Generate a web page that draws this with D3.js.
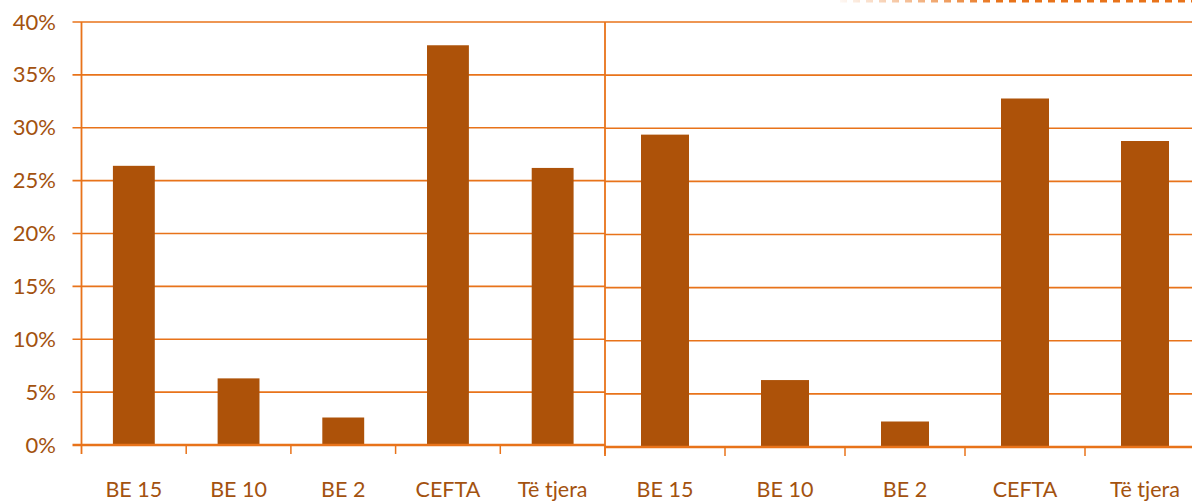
<!DOCTYPE html>
<html>
<head>
<meta charset="utf-8">
<script src="https://cdn.jsdelivr.net/npm/d3@7"></script>
<style>
  body { margin: 0; background: #fff; }
  svg { display: block; }
</style>
</head>
<body>
<div id="chart"></div>
<script>
// Data
const categories = ["BE 15", "BE 10", "BE 2", "CEFTA", "Të tjera"];
const leftValues = [0.264, 0.063, 0.026, 0.378, 0.262];
const rightValues = [0.294, 0.063, 0.024, 0.328, 0.288];
const yTicks = [0, 0.05, 0.10, 0.15, 0.20, 0.25, 0.30, 0.35, 0.40];

// Style
const W = 1192, H = 502;
const barColor = "#AD5209";
const gridColor = "#E8731A";
const textColor = "#A3520F";
const font = "Lato, 'Open Sans', sans-serif";

const svg = d3.select("#chart")
    .append("svg")
    .attr("width", W)
    .attr("height", H);

svg.append("rect").attr("width", W).attr("height", H).attr("fill", "#fff");

// Dashed border fragment at top right (fades in)
const grad = svg.append("defs").append("linearGradient")
    .attr("id", "fade")
    .attr("gradientUnits", "userSpaceOnUse")
    .attr("x1", 840).attr("x2", W).attr("y1", 0).attr("y2", 0);
grad.append("stop").attr("offset", "0%").attr("stop-color", gridColor).attr("stop-opacity", 0.05);
grad.append("stop").attr("offset", "45%").attr("stop-color", gridColor).attr("stop-opacity", 1);
svg.append("line")
    .attr("x1", 840).attr("x2", W).attr("y1", 1).attr("y2", 1)
    .attr("stroke", "url(#fade)")
    .attr("stroke-width", 3)
    .attr("stroke-dasharray", "7,6");

// Draw one panel
function panel(values, x0, x1, y0, y1, showYAxisLabels) {
    const xb = d3.scaleBand().domain(categories).range([x0, x1]);
    const y = d3.scaleLinear().domain([0, 0.40]).range([y0, y1]);

    const g = svg.append("g");

    // Gridlines
    g.selectAll(".grid")
        .data(yTicks.slice(1))
        .join("line")
        .attr("x1", showYAxisLabels ? x0 - 9 : x0)
        .attr("x2", x1)
        .attr("y1", d => y(d)).attr("y2", d => y(d))
        .attr("stroke", gridColor)
        .attr("stroke-width", 1.6);

    // Bars
    g.selectAll(".bar")
        .data(values)
        .join("rect")
        .attr("x", (d, i) => xb(categories[i]) + xb.bandwidth() * 0.3)
        .attr("width", xb.bandwidth() * 0.4)
        .attr("y", d => y(d))
        .attr("height", d => y(0) - y(d))
        .attr("fill", barColor);

    // Baseline
    g.append("line")
        .attr("x1", showYAxisLabels ? x0 - 9 : x0).attr("x2", x1)
        .attr("y1", y(0)).attr("y2", y(0))
        .attr("stroke", gridColor)
        .attr("stroke-width", 2.4);

    // Vertical axis
    g.append("line")
        .attr("x1", x0).attr("x2", x0)
        .attr("y1", y(0.40)).attr("y2", y(0) + 9)
        .attr("stroke", gridColor)
        .attr("stroke-width", 1.8);

    // Category ticks
    g.selectAll(".xtick")
        .data(categories)
        .join("line")
        .attr("x1", d => xb(d) + xb.step())
        .attr("x2", d => xb(d) + xb.step())
        .attr("y1", y(0)).attr("y2", y(0) + 9)
        .attr("stroke", gridColor)
        .attr("stroke-width", 1.5);

    // Category labels
    g.selectAll(".xlab")
        .data(categories)
        .join("text")
        .attr("x", d => xb(d) + xb.bandwidth() / 2)
        .attr("y", 497)
        .attr("text-anchor", "middle")
        .attr("font-family", font)
        .attr("font-size", 21.5)
        .attr("fill", textColor)
        .text(d => d);

    if (showYAxisLabels) {
        g.selectAll(".ylab")
            .data(yTicks)
            .join("text")
            .attr("x", 56)
            .attr("y", d => y(d) + 7.5)
            .attr("text-anchor", "end")
            .attr("font-family", font)
            .attr("font-size", 22)
            .attr("fill", textColor)
            .text(d => d3.format(".0%")(d));
    }
}

panel(leftValues, 81.5, 605, 445, 22, true);
panel(rightValues, 605, 1205, 447, 22, false);
</script>
</body>
</html>
